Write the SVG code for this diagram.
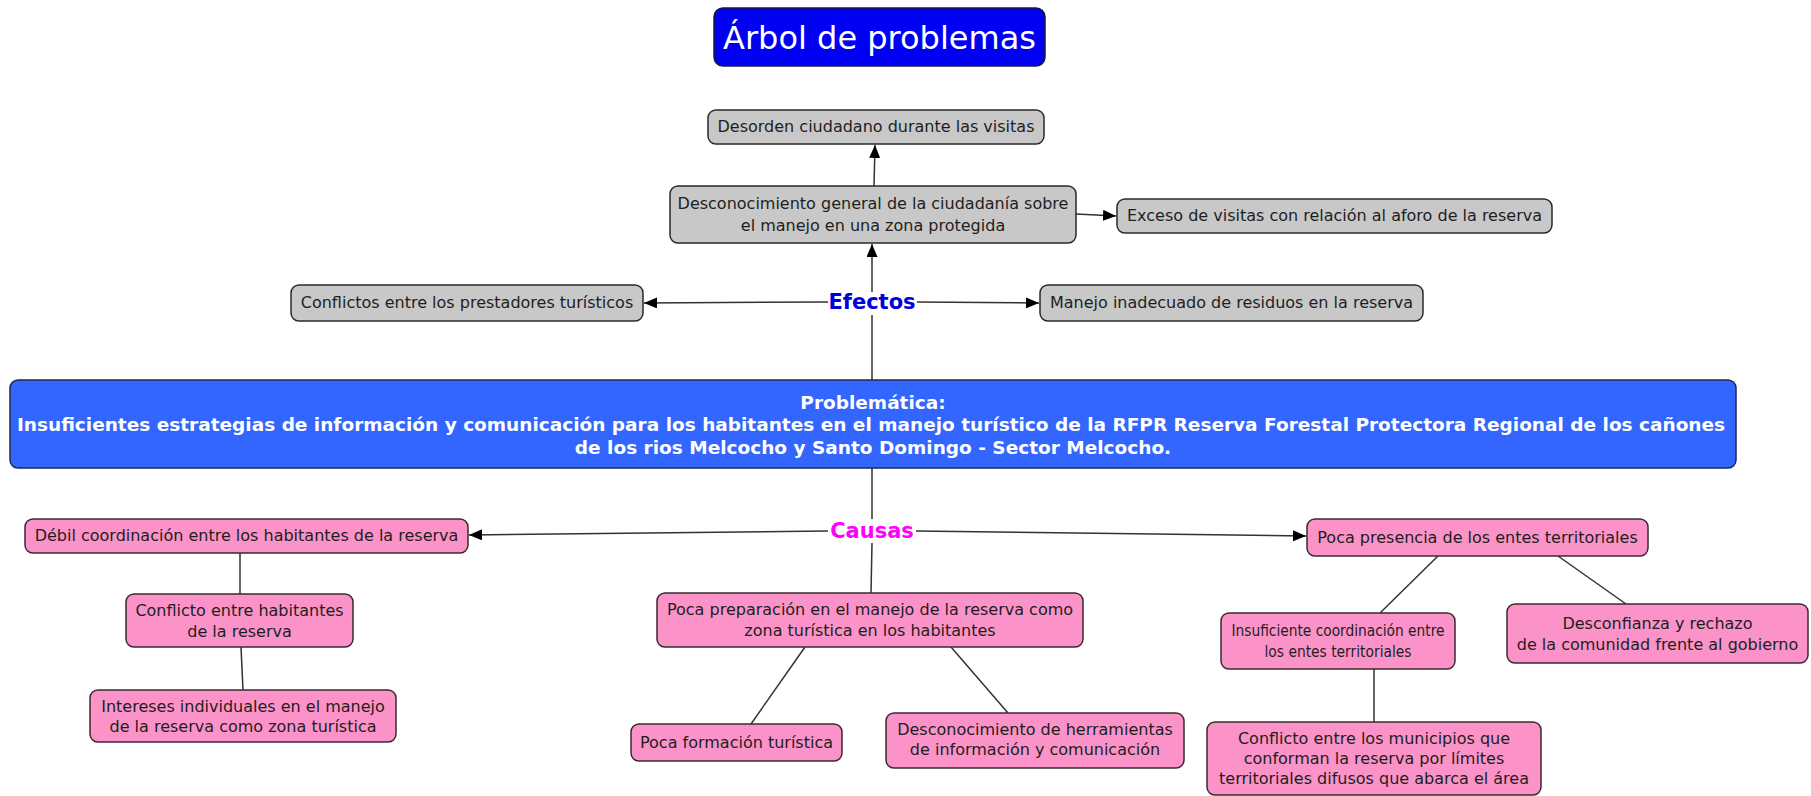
<svg xmlns="http://www.w3.org/2000/svg" width="1811" height="796" viewBox="0 0 1811 796">
<style>
.g rect{fill:#c8c8c8;stroke:#2a2a2a;stroke-width:1.5}
.p rect{fill:#fc93c8;stroke:#3a2a30;stroke-width:1.5}
text{font-family:"DejaVu Sans",Verdana,sans-serif;font-size:16px;fill:#1e1e1e;text-anchor:middle}
.lbl{font-weight:bold;font-size:21px}
.pb{fill:#fff;font-weight:bold;font-size:18.5px}
.c line{stroke:#333;stroke-width:1.5}
</style>
<defs>
<marker id="ah" viewBox="0 0 13 11" refX="13" refY="5.5" markerWidth="13" markerHeight="11" markerUnits="userSpaceOnUse" orient="auto">
<path d="M0,0 L13,5.5 L0,11 z" fill="#000"/>
</marker>
</defs>
<g id="connectors" class="c">
<line x1="874" y1="186" x2="875" y2="145" marker-end="url(#ah)"/>
<line x1="1076" y1="214" x2="1116" y2="216" marker-end="url(#ah)"/>
<line x1="872" y1="292" x2="872" y2="244" marker-end="url(#ah)"/>
<line x1="828" y1="302" x2="644" y2="303" marker-end="url(#ah)"/>
<line x1="917" y1="302" x2="1039" y2="303" marker-end="url(#ah)"/>
<line x1="872" y1="380" x2="872" y2="315"/>
<line x1="872" y1="468" x2="872" y2="519"/>
<line x1="828" y1="531" x2="469" y2="535" marker-end="url(#ah)"/>
<line x1="916" y1="531" x2="1306" y2="536" marker-end="url(#ah)"/>
<line x1="872" y1="543" x2="871" y2="593"/>
<line x1="805" y1="647" x2="751" y2="724"/>
<line x1="951" y1="647" x2="1008" y2="713"/>
<line x1="1438" y1="556" x2="1380" y2="613"/>
<line x1="1558" y1="556" x2="1626" y2="604"/>
<line x1="1374" y1="669" x2="1374" y2="722"/>
<line x1="240" y1="553" x2="240" y2="594"/>
<line x1="241" y1="647" x2="243" y2="690"/>
</g>
<g id="title">
<rect x="714" y="8" width="331" height="58" rx="9" fill="#0000f2" stroke="#1a1a40" stroke-width="1.5"/>
<text x="879.5" y="49" style="font-size:32px;fill:#fff">Árbol de problemas</text>
</g>
<g id="desorden" class="g"><rect x="708" y="110" width="336" height="34" rx="8"/><text x="876" y="132">Desorden ciudadano durante las visitas</text></g>
<g id="desconocimiento" class="g"><rect x="670" y="186" width="406" height="57" rx="8"/><text x="873" y="209">Desconocimiento general de la ciudadanía sobre</text><text x="873" y="231">el manejo en una zona protegida</text></g>
<g id="exceso" class="g"><rect x="1117" y="199" width="435" height="34" rx="8"/><text x="1334.5" y="221">Exceso de visitas con relación al aforo de la reserva</text></g>
<g id="conflictos" class="g"><rect x="291" y="285" width="352" height="36" rx="8"/><text x="467" y="308">Conflictos entre los prestadores turísticos</text></g>
<g id="manejo" class="g"><rect x="1040" y="285" width="383" height="36" rx="8"/><text x="1231.5" y="308">Manejo inadecuado de residuos en la reserva</text></g>
<g id="efectos"><text class="lbl" x="872" y="309" style="fill:#0000dd">Efectos</text></g>
<g id="problematica">
<rect x="10" y="380" width="1726" height="88" rx="8" fill="#3366ff" stroke="#1a2a55" stroke-width="1.5"/>
<text class="pb" x="873" y="409">Problemática:</text>
<text class="pb" x="871" y="431">Insuficientes estrategias de información y comunicación para los habitantes en el manejo turístico de la RFPR Reserva Forestal Protectora Regional de los cañones</text>
<text class="pb" x="873" y="454">de los rios Melcocho y Santo Domingo - Sector Melcocho.</text>
</g>
<g id="causas"><text class="lbl" x="872" y="538" style="fill:#ff00ff">Causas</text></g>
<g id="debil" class="p"><rect x="25" y="519" width="443" height="34" rx="8"/><text x="246.5" y="541">Débil coordinación entre los habitantes de la reserva</text></g>
<g id="poca-presencia" class="p"><rect x="1307" y="519" width="341" height="37" rx="8"/><text x="1477.5" y="543">Poca presencia de los entes territoriales</text></g>
<g id="conflicto-habitantes" class="p"><rect x="126" y="594" width="227" height="53" rx="8"/><text x="239.5" y="616">Conflicto entre habitantes</text><text x="239.5" y="637">de la reserva</text></g>
<g id="intereses" class="p"><rect x="90" y="690" width="306" height="52" rx="8"/><text x="243" y="712">Intereses individuales en el manejo</text><text x="243" y="732">de la reserva como zona turística</text></g>
<g id="poca-preparacion" class="p"><rect x="657" y="593" width="426" height="54" rx="8"/><text x="870" y="615">Poca preparación en el manejo de la reserva como</text><text x="870" y="636">zona turística en los habitantes</text></g>
<g id="poca-formacion" class="p"><rect x="631" y="724" width="211" height="37" rx="8"/><text x="736.5" y="748">Poca formación turística</text></g>
<g id="desconocimiento-herramientas" class="p"><rect x="886" y="713" width="298" height="55" rx="8"/><text x="1035" y="735">Desconocimiento de herramientas</text><text x="1035" y="755">de información y comunicación</text></g>
<g id="insuficiente" class="p"><rect x="1221" y="613" width="234" height="56" rx="8"/><text x="1338" y="636" textLength="213" lengthAdjust="spacingAndGlyphs">Insuficiente coordinación entre</text><text x="1338" y="657" textLength="147" lengthAdjust="spacingAndGlyphs">los entes territoriales</text></g>
<g id="desconfianza" class="p"><rect x="1507" y="604" width="301" height="59" rx="8"/><text x="1657.5" y="629">Desconfianza y rechazo</text><text x="1657.5" y="650">de la comunidad frente al gobierno</text></g>
<g id="conflicto-municipios" class="p"><rect x="1207" y="722" width="334" height="73" rx="8"/><text x="1374" y="744">Conflicto entre los municipios que</text><text x="1374" y="764">conforman la reserva por límites</text><text x="1374" y="784">territoriales difusos que abarca el área</text></g>
</svg>
